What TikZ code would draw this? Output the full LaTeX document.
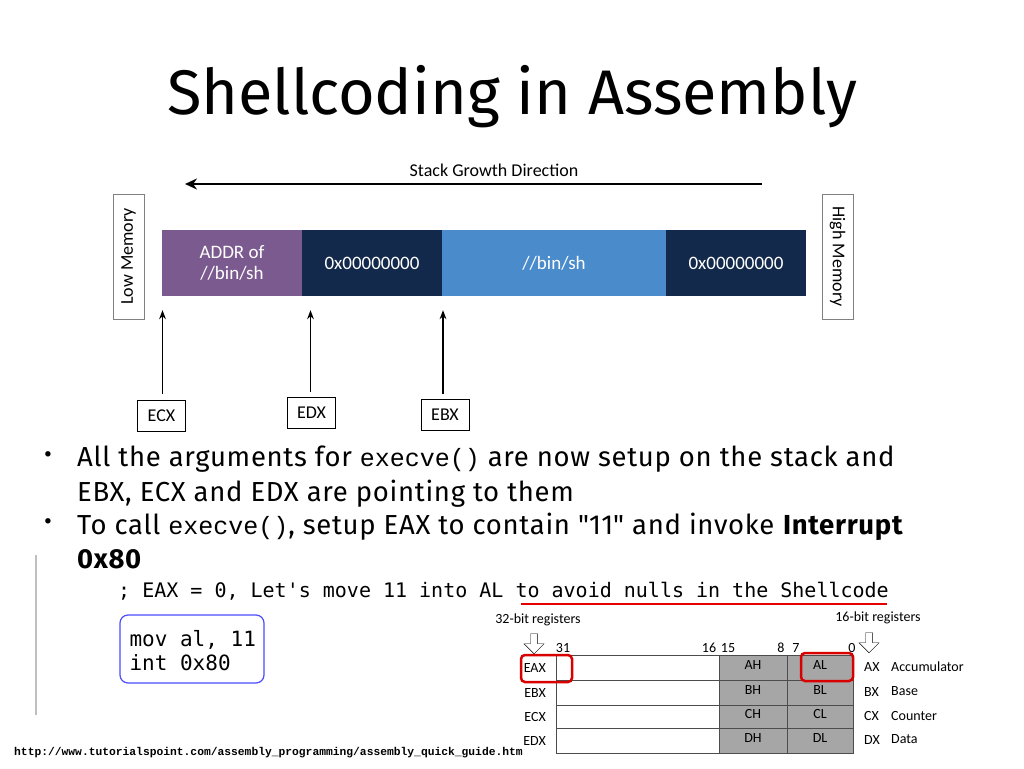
\documentclass[tikz,border=0pt]{standalone}
\usepackage{fontspec}
\setmainfont{Fira Sans}
\newfontfamily\monof{Liberation Mono}
\newfontfamily\codef{DejaVu Sans Mono}
\newfontfamily\calf{Carlito}
\usetikzlibrary{shapes.arrows,arrows.meta}
\definecolor{purp}{HTML}{7B5B8F}
\definecolor{navy}{HTML}{13294B}
\definecolor{sky}{HTML}{4A8BCC}
\definecolor{regg}{HTML}{A6A6A6}
\begin{document}
\begin{tikzpicture}[x=1pt,y=-1pt,
  seg/.style={draw=none,minimum height=66pt,text=white,font=\calf\fontsize{19}{21}\selectfont,align=center,inner sep=0pt},
  reg/.style={draw,fill=white,font=\calf\fontsize{18}{20}\selectfont,minimum height=31pt,minimum width=48pt,inner sep=0pt},
  memb/.style={draw=gray,fill=white,minimum width=31pt,minimum height=125pt,inner sep=0pt},
  sm/.style={font=\calf\fontsize{14}{16}\selectfont,inner sep=0pt},
  cell/.style={draw=black!70,minimum height=24.5pt,inner sep=0pt},
  redbox/.style={draw=red!85!black,line width=2.5pt,rounded corners=4pt},
  body/.style={font=\fontsize{27.5}{30}\selectfont\addfontfeature{LetterSpace=2.5},anchor=base west,inner sep=0pt},
  upar/.style={line width=1.2pt,-{Stealth[length=9pt]}},
  hol/.style={single arrow,draw,fill=white,shape border rotate=270,minimum width=20pt,single arrow head extend=4pt,minimum height=20pt,inner sep=2pt}]
\useasboundingbox (0,0) rectangle (1024,768);
\node (title) at (512,97) {\fontsize{63}{66}\selectfont Shellcoding in Assembly};
\node[font=\calf\fontsize{18}{20}\selectfont] (sgd) at (494,170) {Stack Growth Direction};
\coordinate (gs) at (762,184); \coordinate (ge) at (185,184);
\draw[line width=2.2pt,-{Stealth[length=12pt,width=11pt]}] (gs) -- (ge);
\node[memb] (low) at (128.5,256.5) {}; \node[rotate=90,font=\calf\fontsize{18}{20}\selectfont] at (low) {Low Memory};
\node[memb] (high) at (837.5,256.5) {}; \node[rotate=-90,font=\calf\fontsize{18}{20}\selectfont] at (high) {High Memory};
\node[seg,fill=purp,minimum width=140pt] (s1) at (232,263) {ADDR of\\//bin/sh};
\node[seg,fill=navy,minimum width=140pt] (s2) at (372,263) {0x00000000};
\node[seg,fill=sky,minimum width=224pt] (s3) at (554,263) {//bin/sh};
\node[seg,fill=navy,minimum width=140pt] (s4) at (736,263) {0x00000000};
\node[reg] (ecx) at (161.5,416) {ECX};
\node[reg] (edx) at (311.5,412.5) {EDX};
\node[reg] (ebx) at (445,415) {EBX};
\draw[upar] ([shift={(1,-6)}]ecx.north) -- ([shift={(1,14)}]ecx.north |- s1.south);
\draw[upar] ([shift={(-1,-5)}]edx.north) -- ([shift={(-1,14)}]edx.north |- s2.south);
\draw[upar] ([shift={(-2,-5)}]ebx.north) -- ([shift={(-2,14)}]ebx.north |- s3.south);
% bullets
\node[font=\fontsize{24}{24}\selectfont] (b1) at (48,457) {•};
\node[font=\fontsize{24}{24}\selectfont] (b2) at (48,524) {•};
\node[body] (l1) at (77,466) {All the arguments for {\monof\fontsize{25}{30}\selectfont execve()} are now setup on the stack and};
\node[body] (l2) at (77,501) {EBX, ECX and EDX are pointing to them};
\node[body] (l3) at (77,534) {To call {\monof\fontsize{25}{30}\selectfont execve()}, setup EAX to contain \textquotedbl 11\textquotedbl{} and invoke \textbf{Interrupt}};
\node[body] (l4) at (77,568) {\textbf{0x80}};
\draw[gray!50,line width=1.5pt] (36,555) -- (36,715);
\node[font=\codef\fontsize{20}{22}\selectfont,anchor=base west,inner sep=0pt] (code) at (118,597) {; EAX = 0, Let's move 11 into AL to avoid nulls in the Shellcode};
\draw[red!90!black,line width=2.5pt] (521,604) -- (887,604);
\node[draw=blue!70,line width=1.2pt,rounded corners=8pt,minimum width=144pt,minimum height=68pt] (cbox) at (192,649) {};
\node[font=\codef\fontsize{21}{24}\selectfont,align=left,anchor=west] at (126,651) {mov al, 11\\int 0x80};
% registers
\foreach \r/\y/\h/\l/\x/\n in {A/667.5/AH/AL/AX/Accumulator,B/692.5/BH/BL/BX/Base,C/717/CH/CL/CX/Counter,D/740.5/DH/DL/DX/Data}{
  \node[cell,fill=white,minimum width=163pt] (w\r) at (637.5,\y) {};
  \node[cell,fill=regg,minimum width=68pt] (h\r) at (753,\y) {};
  \node[cell,fill=regg,minimum width=66pt] (l\r) at (820,\y) {};
  \node[sm] at (753,\y-3) {\h};
  \node[sm] at (820,\y-3) {\l};
  \node[sm,anchor=east] (e\r) at (546,\y) {E\x};
  \node[sm,anchor=west] (x\r) at (864,\y-1) {\x};
  \node[sm,anchor=west] (n\r) at (891,\y-1) {\n};
}
\foreach \t/\x in {31/563,16/709,15/728,8/781,7/796,0/852}{\node[sm] at (\x,648) {\t};}
\node[sm] (r32) at (538,620) {32-bit registers};
\node[sm] (r16) at (878,618) {16-bit registers};
\node[hol] (a32) at (534,642) {};
\node[hol] (a16) at (869,641) {};
\draw[redbox] (521,655) rectangle (572,682);
\draw[redbox] (801,653) rectangle (853,681);
\node[font=\monof\bfseries\fontsize{11.3}{12}\selectfont,anchor=west,inner sep=0pt] (url) at (14,753) {http://www.tutorialspoint.com/assembly\_programming/assembly\_quick\_guide.htm};
\end{tikzpicture}
\end{document}
